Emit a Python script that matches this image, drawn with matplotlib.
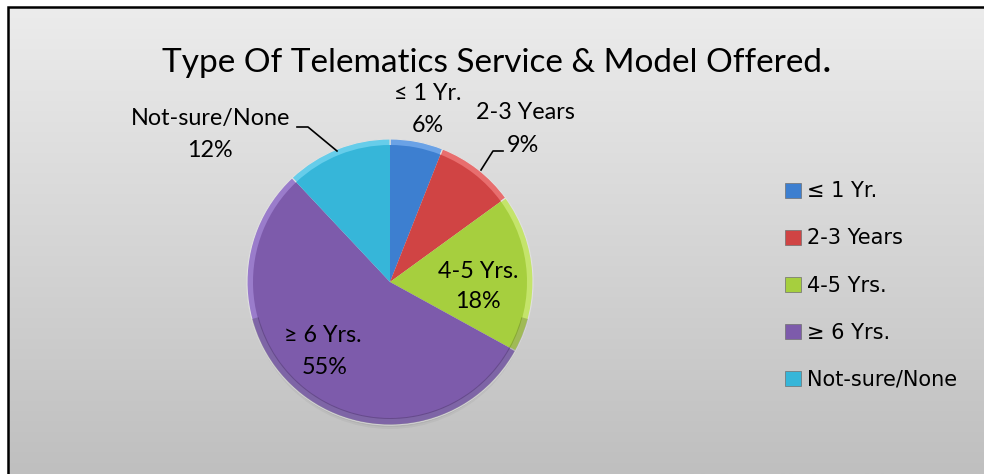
import numpy as np
import matplotlib
matplotlib.use("Agg")
import matplotlib.pyplot as plt
from matplotlib.patches import Rectangle, Circle, Wedge

# data
categories = ["\u2264 1 Yr.", "2-3 Years", "4-5 Yrs.", "\u2265 6 Yrs.", "Not-sure/None"]
shares = [6, 9, 18, 55, 12]
colors = ["#3d7fd0", "#d04444", "#a6cf3e", "#7d5bab", "#36b6d9"]
rim_colors = ["#6aa2e6", "#e86e6e", "#c4e46a", "#9a7ccb", "#66cdea"]

W, H = 984, 474
fig = plt.figure(figsize=(W / 100, H / 100), dpi=100)
fig.patch.set_facecolor("white")
ax = fig.add_axes([0, 0, 1, 1])

# background gradient inside the frame
grad = np.linspace(0, 1, 256).reshape(-1, 1)
bg = matplotlib.colors.LinearSegmentedColormap.from_list("bg", ["#bfbfbf", "#ececec"])
ax.imshow(grad, extent=[8, W, 0, H - 7], cmap=bg, origin="lower", aspect="auto", zorder=0)
ax.plot([8, 8, W], [0, H - 7, H - 7], color="black", lw=1.8, zorder=1, solid_joinstyle="miter")

cx, cy, r = 390, H - 282, 143

# soft shadow under the pie
for i, a in enumerate([0.04, 0.05, 0.06, 0.07]):
    ax.add_patch(Circle((cx, cy - 6 + i), r - 2 - i, color="black", alpha=a, lw=0, zorder=1))

# bevel rim then face
ax.pie(shares, colors=rim_colors, startangle=90, counterclock=False, center=(cx, cy), radius=r,
       wedgeprops=dict(edgecolor="#e0e0e0", linewidth=0.8, zorder=2), frame=True)
ax.pie(shares, colors=colors, startangle=90, counterclock=False, center=(cx, cy), radius=r - 6,
       wedgeprops=dict(linewidth=0, zorder=3), frame=True)
# darker lower edge of the bevel
ax.add_patch(Wedge((cx, cy), r, 195, 345, width=7, color="black", alpha=0.18, lw=0, zorder=4))

ax.set_xlim(0, W)
ax.set_ylim(0, H)
ax.set_aspect("equal")
ax.axis("off")

lab_font = dict(family="Lato", fontsize=16.8, color="black", ha="center", va="center", zorder=5)

def put(x, y, s):
    ax.text(x, H - y, s, **lab_font)

put(428, 93, categories[0]); put(428, 125, f"{shares[0]}%")
put(525, 112, categories[1]); put(523, 145, f"{shares[1]}%")
put(478, 272, categories[2]); put(478, 302, f"{shares[2]}%")
put(323, 335, categories[3]); put(325, 367, f"{shares[3]}%")
put(211, 118, categories[4]); put(210, 150, f"{shares[4]}%")

# leader lines
ax.plot([503, 493, 481], [H - 151, H - 151, H - 170], color="black", lw=1.2, zorder=5)
ax.plot([297, 308, 337], [H - 127, H - 127, H - 151], color="black", lw=1.2, zorder=5)

# title with bold period
ax.text(822, H - 72, "Type Of Telematics Service & Model Offered", family="Lato",
        fontsize=24, ha="right", va="baseline", zorder=5)
ax.text(823, H - 72, ".", family="Lato", fontsize=24, fontweight="bold", ha="left",
        va="baseline", zorder=5)

# legend
handles = [Rectangle((0, 0), 1, 1, facecolor=c, edgecolor="#707070", lw=0.5) for c in colors]
leg = ax.legend(handles, categories, loc="upper left", bbox_to_anchor=(775 / W, 1 - 171 / H),
                frameon=False, prop=dict(family="DejaVu Sans", size=15), handlelength=0.75,
                handleheight=0.75, handletextpad=0.3, labelspacing=1.3, borderpad=0)

fig.savefig("out.png", dpi=100)
